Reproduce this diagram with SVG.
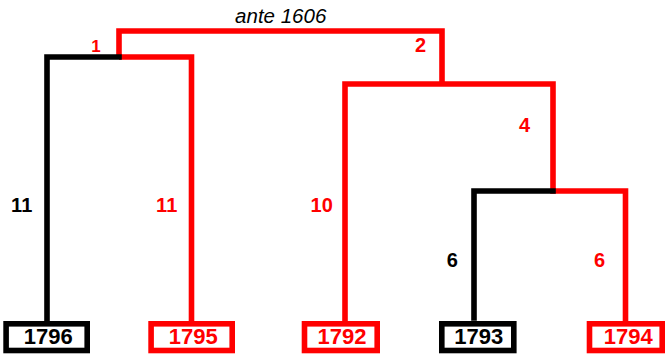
<svg xmlns="http://www.w3.org/2000/svg" width="665" height="358" viewBox="0 0 665 358">
<style>
.r{stroke:#ff0000}
.k{stroke:#000000}
.ln{fill:none;stroke-width:5.6;stroke-linejoin:miter}
.box{fill:#ffffff;stroke-width:5.6}
.t{font-family:"Liberation Sans",Arial,sans-serif;font-weight:bold;text-anchor:middle}
.bt{font-size:22px}
.el{font-size:20px}
.tr{fill:#ff0000}
.tk{fill:#000000}
</style>
<rect width="665" height="358" fill="#ffffff"/>
<g id="connectors">
<polyline class="ln r" points="119,57 119,31 442,31 442,84"/>
<polyline class="ln r" points="119,57 191.5,57 191.5,321"/>
<polyline class="ln k" stroke-linecap="square" points="47,321 47,57 119,57"/>
<polyline class="ln r" points="345,321 345,84 553,84 553,191 625.5,191 625.5,321"/>
<polyline class="ln k" stroke-linecap="square" points="474,318 474,191 553,191"/>
</g>
<g id="labels">
<text x="280.7" y="23.3" font-family="Liberation Sans,Arial,sans-serif" font-style="italic" font-size="20.5" text-anchor="middle" fill="#000000">ante 1606</text>
<text class="t tr" x="96" y="51.7" font-size="17">1</text>
<text class="t el tr" x="420.5" y="52.3">2</text>
<text class="t el tr" x="524.5" y="132.3">4</text>
<text class="t el tk" x="21.7" y="212.3">11</text>
<text class="t el tr" x="166.7" y="212.3">11</text>
<text class="t el tr" x="321.7" y="212.3">10</text>
<text class="t el tk" x="452.2" y="266.7">6</text>
<text class="t el tr" x="599.5" y="266.7">6</text>
</g>
<g id="n1796"><rect class="box k" x="6.1" y="323.8" width="81.1" height="26.7"/><text class="t bt tk" x="48.3" y="344.3">1796</text></g>
<g id="n1795"><rect class="box r" x="151.1" y="323.8" width="81.1" height="26.7"/><text class="t bt tr" x="193.3" y="344.3">1795</text></g>
<g id="n1792"><rect class="box r" x="304.5" y="323.8" width="72.7" height="26.7"/><text class="t bt tr" x="342" y="344.3">1792</text></g>
<g id="n1793"><rect class="box k" x="441.8" y="323.8" width="72" height="26.7"/><text class="t bt tk" x="478.8" y="344.3">1793</text></g>
<g id="n1794"><rect class="box r" x="589.5" y="323.8" width="72.7" height="26.7"/><text class="t bt tr" x="628.3" y="344.3">1794</text></g>
</svg>
